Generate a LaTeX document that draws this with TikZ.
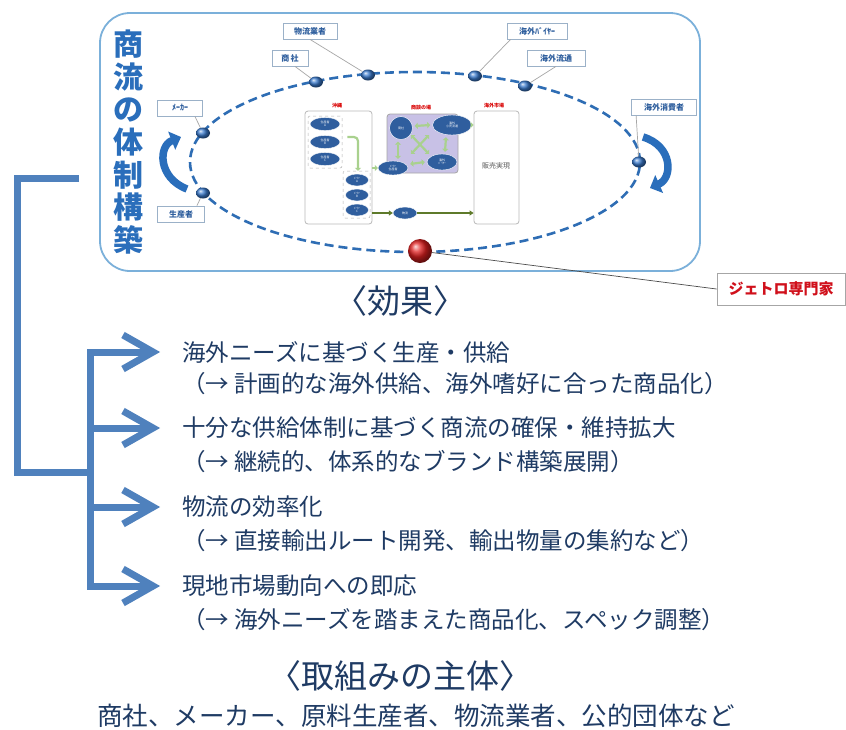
\documentclass[tikz,border=0pt]{standalone}
\usepackage{fontspec}
\newfontfamily\jp{Noto Sans CJK JP}
\usetikzlibrary{arrows.meta,shapes.geometric,calc}
\definecolor{brk}{HTML}{4F81BD}
\definecolor{navy}{HTML}{1F3B64}
\definecolor{ttl}{HTML}{2A6EBB}
\definecolor{dashb}{HTML}{2E6DB4}
\definecolor{boxb}{HTML}{7BB0DA}
\definecolor{lblb}{HTML}{2F5F9E}
\definecolor{lblframe}{HTML}{9BB1C8}
\definecolor{grn}{HTML}{A9D18E}
\definecolor{olive}{HTML}{5E7A2A}
\definecolor{ovalb}{HTML}{2F5E9E}
\definecolor{purp}{HTML}{C8C1E6}
\definecolor{redt}{HTML}{D0101B}
\definecolor{dotcol}{HTML}{3A7ACC}
\definecolor{ballred}{HTML}{E02020}
\begin{document}
\begin{tikzpicture}[x=1pt,y=-1pt,font=\jp,
  mainbox/.style={draw=boxb,line width=1.8pt,rounded corners=30pt,fill=white,minimum width=600pt,minimum height=258pt},
  ttlchar/.style={text=ttl,align=center,font=\jp\bfseries\fontsize{30}{32.7}\selectfont},
  orbit/.style={draw=dashb,line width=2.6pt,dash pattern=on 9pt off 5pt},
  dot/.style={ellipse,minimum width=14pt,minimum height=11pt,inner sep=0pt,shade,ball color=dotcol},
  lbl/.style={draw=lblframe,fill=white,line width=0.8pt,text=lblb,font=\jp\bfseries\fontsize{8}{9}\selectfont,inner sep=1pt,minimum height=16pt},
  leader/.style={draw=gray!70,line width=0.7pt},
  turn/.style={draw=ttl,line width=7.5pt,-{Triangle[length=10pt 0 0,width=19pt 0 0]}},
  ibox/.style={draw=gray!55,line width=0.8pt,rounded corners=3pt,fill=white},
  dbox/.style={draw=gray!60,dashed,line width=0.5pt,rounded corners=2pt},
  ov/.style={ellipse,fill=ovalb,draw=white,line width=0.4pt,inner sep=0pt,text=white,font=\jp\fontsize{3}{3.4}\selectfont,align=center},
  rtitle/.style={text=red!85!black,font=\jp\bfseries\fontsize{5}{5}\selectfont},
  garrow/.style={draw=grn,line width=2.2pt,-{Triangle[length=3pt 0 0,width=6pt 0 0]}},
  gdarrow/.style={draw=grn,line width=2.2pt,{Triangle[length=3pt 0 0,width=6pt 0 0]}-{Triangle[length=3pt 0 0,width=6pt 0 0]}},
  oarrow/.style={draw=olive,line width=1.2pt,-{Triangle[length=4pt 0 0,width=5pt 0 0]}},
  item/.style={anchor=west,text=navy,font=\jp\fontsize{23.5}{26}\selectfont,inner sep=0pt},
  head/.style={text=navy,font=\jp\fontsize{33}{35}\selectfont,inner sep=0pt},
  bracket/.style={draw=brk,line width=7pt}]
\useasboundingbox (0,0) rectangle (846,729);
\fill[white] (0,0) rectangle (846,729);

% ---------- main frame ----------
\node[mainbox] (frame) at (400,142) {};
\node[ttlchar] (title) at (128,142) {商\\流\\の\\体\\制\\構\\築};

% orbit
\draw[orbit] (415,162) ellipse [x radius=225pt,y radius=90pt];

% turning arrows
\draw[turn] (187,189) .. controls (158,178) and (158,146) .. (181,137);
\draw[turn] (643,137) .. controls (673,146) and (673,178) .. (650,188);

% dots
\node[dot] (dM) at (203,133) {};
\node[dot] (dP) at (203,193) {};
\node[dot] (dS) at (316,82) {};
\node[dot] (dB) at (368,75) {};
\node[dot] (dBu) at (475,76) {};
\node[dot] (dR) at (525,86) {};
\node[dot] (dC) at (639,162) {};

% labels
\node[lbl,minimum width=45pt] (lM) at (180,108) {ﾒｰｶｰ};
\node[lbl,minimum width=47pt] (lP) at (181,214) {生産者};
\node[lbl,minimum width=36pt] (lS) at (290,58) {商\,社};
\node[lbl,minimum width=54pt] (lB) at (310,31) {物流業者};
\node[lbl,minimum width=60pt] (lBu) at (537,31) {海外ﾊﾞｲﾔｰ};
\node[lbl,minimum width=58pt] (lR) at (556,58) {海外流通};
\node[lbl,minimum width=65pt] (lC) at (664,107) {海外消費者};

\draw[leader] ($(lM.south east)+(-8,0)$) -- (dM);
\draw[leader] ($(lP.north east)+(-8,0)$) -- (dP);
\draw[leader] ($(lS.south)+(5,0)$) -- (dS);
\draw[leader] (lB.south) -- (dB);
\draw[leader] ($(lBu.south west)+(4,0)$) -- (dBu);
\draw[leader] (lR.south) -- (dR);
\draw[leader] ($(lC.south west)+(5,0)$) -- (dC);

% ---------- inner mini diagram ----------
\node[rtitle] (tOk) at (337,106) {沖縄};
\node[rtitle] (tSd) at (421,108) {商談の場};
\node[rtitle] (tMk) at (494,106) {海外市場};

\node[ibox,minimum width=67pt,minimum height=113pt] (okBox) at (338.5,167.5) {};
\node[dbox,minimum width=34pt,minimum height=52pt] (prodBox) at (325,142) {};
\node[ov,minimum width=30pt,minimum height=13pt] (pA) at (325,124) {生産者\\A};
\node[ov,minimum width=30pt,minimum height=13pt] (pB) at (325,142) {生産者\\B};
\node[ov,minimum width=30pt,minimum height=13pt] (pC) at (325,159) {生産者\\C};
\node[dbox,minimum width=27pt,minimum height=47pt] (makBox) at (356.5,194.5) {};
\node[ov,minimum width=23pt,minimum height=12pt] (mA) at (357,180) {ﾒｰｶｰ\\A};
\node[ov,minimum width=23pt,minimum height=12pt] (mB) at (357,195) {ﾒｰｶｰ\\B};
\node[ov,minimum width=23pt,minimum height=12pt] (mC) at (357,210) {ﾒｰｶｰ\\C};
\coordinate (bend) at (358,137);
\draw[garrow,rounded corners=4pt] (prodBox.east |- bend) ++(5,0) -- (bend) -- (makBox.north -| bend);

\node[ibox,fill=purp,draw=gray!70,minimum width=71pt,minimum height=59pt] (sdBox) at (422.5,143.5) {};
\node[ov,minimum width=23pt,minimum height=23pt] (oS) at (401,128) {商社};
\node[ov,minimum width=39pt,minimum height=20pt] (oR) at (452,125) {海外\\小売流通};
\node[ov,minimum width=30pt,minimum height=16pt] (oBu) at (442,162) {海外\\ﾊﾞｲﾔｰ};
\node[ov,minimum width=30pt,minimum height=14pt] (oM) at (393,168) {ﾒｰｶｰ\\生産者};
\draw[gdarrow] (oS.east) ++(2,-2) -- ($(oR.west)+(-2,0)$);
\draw[gdarrow] ($(oS.south)+(-3,2)$) -- ($(oM.north)+(5,-2)$);
\draw[gdarrow] ($(oR.south)+(-6,2)$) -- ($(oBu.north)+(3,-2)$);
\draw[gdarrow] ($(oM.east)+(2,-4)$) -- ($(oBu.west)+(-2,0)$);
\draw[gdarrow] (411,135) -- (429,154);
\draw[gdarrow] (429,135) -- (411,154);
\draw[garrow,line width=1.8pt] (okBox.east |- oM) -- (oM.west);

\node[ibox,minimum width=45pt,minimum height=113pt] (mkBox) at (496.5,167.5) {};
\node[text=gray!70!black,font=\jp\fontsize{7}{8}\selectfont] (sale) at (496,166) {販売実現};
\draw[garrow,line width=1.8pt] (oR.east) -- (mkBox.west |- oR);

\node[ov,minimum width=24pt,minimum height=12pt] (oL) at (405,213) {物流};
\draw[oarrow] (okBox.east |- oL) -- (oL.west);
\draw[oarrow] (oL.east) -- (mkBox.west |- oL);

% red ball and JETRO label
\node[circle,minimum size=24pt,inner sep=0pt,shade,ball color=ballred] (ball) at (420,251) {};
\node[draw=gray!70,line width=0.8pt,fill=white,minimum width=128pt,minimum height=32pt,text=redt,font=\jp\bfseries\fontsize{15}{16}\selectfont] (jetro) at (781,289) {ジェトロ専門家};
\draw[draw=gray!60!black,line width=0.7pt] (ball) -- (jetro.west);

% ---------- effects ----------
\node[head] (effect) at (400,301) {〈効果〉};

\node[item] (t1a) at (182,352) {海外ニーズに基づく生産・供給};
\node[item] (t1b) at (182,384) {（→ 計画的な海外供給、海外嗜好に合った商品化）};
\node[item] (t2a) at (182,428) {十分な供給体制に基づく商流の確保・維持拡大};
\node[item] (t2b) at (182,462) {（→ 継続的、体系的なブランド構築展開）};
\node[item] (t3a) at (182,507) {物流の効率化};
\node[item] (t3b) at (182,541) {（→ 直接輸出ルート開発、輸出物量の集約など）};
\node[item] (t4a) at (182,586) {現地市場動向への即応};
\node[item] (t4b) at (182,620) {（→ 海外ニーズを踏まえた商品化、スペック調整）};

\node[head] (actors) at (400,676) {〈取組みの主体〉};
\node[text=navy,font=\jp\fontsize{25.5}{27}\selectfont,inner sep=0pt] (actlist) at (416,716) {商社、メーカー、原料生産者、物流業者、公的団体など};

% ---------- bracket arrows ----------
\coordinate (ax) at (153,0);
\coordinate (jx) at (90,0);
\foreach \i in {1,2,3,4} {
  \coordinate (a\i) at (t\i a.west -| ax);
  \coordinate (j\i) at (t\i a.west -| jx);
}
\coordinate (bt) at (79,178);
\coordinate (bl) at (17,178);
\coordinate (bb) at (17,472);
\coordinate (jm) at (90,472);
\draw[bracket] (bt) -- (bl) -- (bb) -- (jm);
\draw[bracket] (a1) -- (j1) -- (j4) -- (a4);
\draw[bracket] (j2) -- (a2);
\draw[bracket] (j3) -- (a3);
\foreach \i in {1,2,3,4} {
  \draw[bracket] ($(a\i)+(-30,-17)$) -- (a\i) -- ($(a\i)+(-30,17)$);
}
\end{tikzpicture}
\end{document}
